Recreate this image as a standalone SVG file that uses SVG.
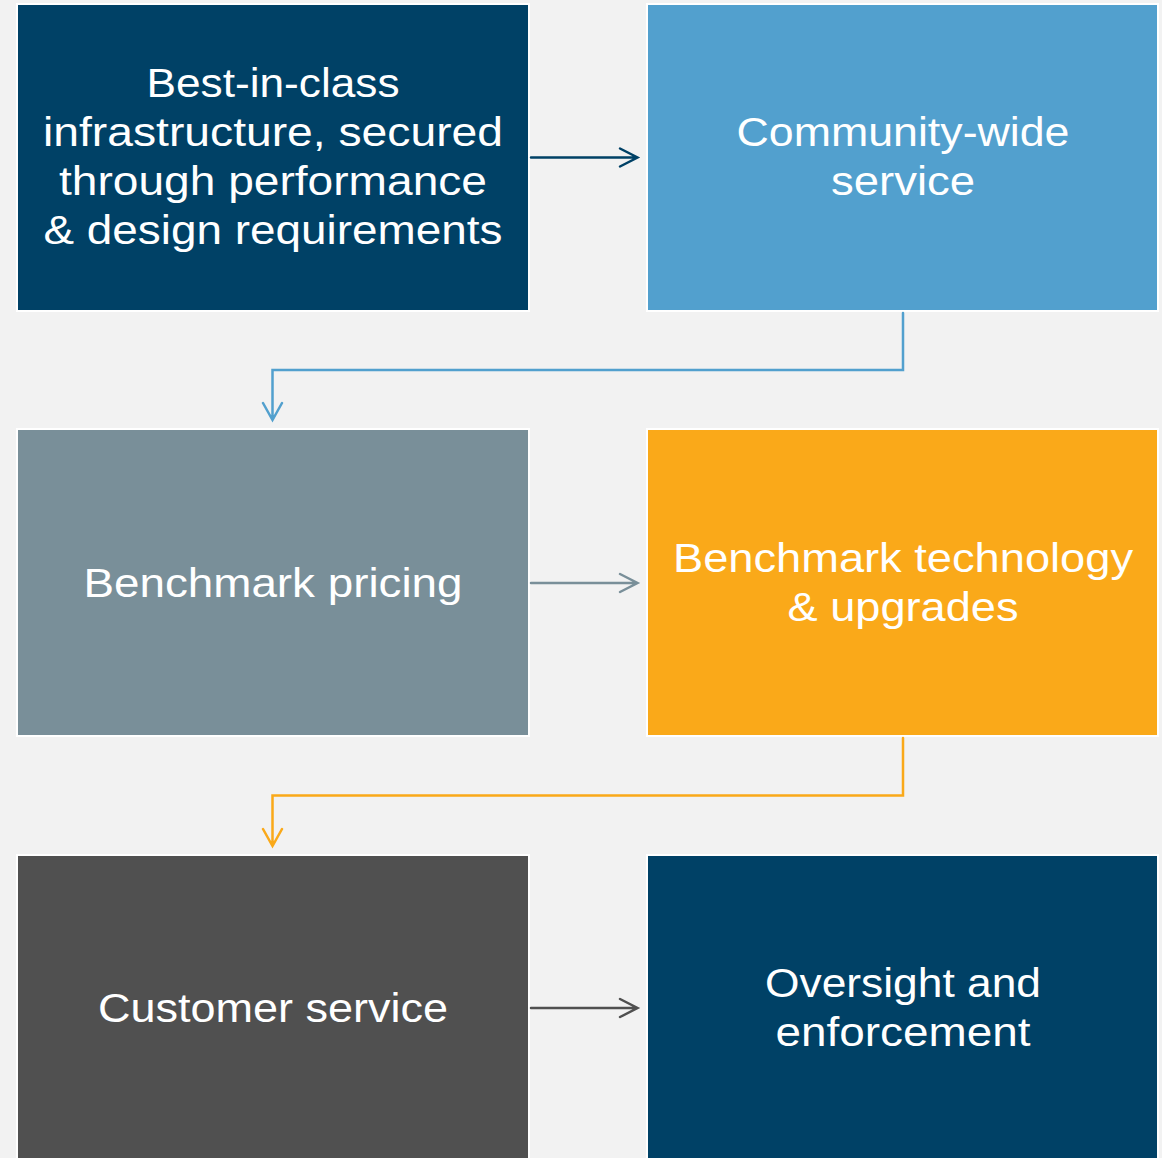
<svg xmlns="http://www.w3.org/2000/svg" width="1162" height="1158" viewBox="0 0 1162 1158">
  <style>
    .box { stroke: #ffffff; stroke-width: 2; }
    .lbl { font-family: "Liberation Sans", Arial, sans-serif; font-size: 40px; fill: #ffffff; text-anchor: middle; }
    .conn { fill: none; stroke-width: 2.5; stroke-linecap: round; stroke-linejoin: miter; }
  </style>
  <rect width="1162" height="1158" fill="#f2f2f2"/>

  <g id="node-infrastructure">
    <rect class="box" x="17" y="4" width="512" height="307" fill="#004166"/>
    <text class="lbl" x="273" y="97" textLength="253" lengthAdjust="spacingAndGlyphs">Best-in-class</text>
    <text class="lbl" x="273" y="146" textLength="460" lengthAdjust="spacingAndGlyphs">infrastructure, secured</text>
    <text class="lbl" x="273" y="195" textLength="428" lengthAdjust="spacingAndGlyphs">through performance</text>
    <text class="lbl" x="273" y="244" textLength="459" lengthAdjust="spacingAndGlyphs">&amp; design requirements</text>
  </g>

  <g id="node-community">
    <rect class="box" x="647" y="4" width="511" height="307" fill="#52a0ce"/>
    <text class="lbl" x="903" y="146" textLength="333" lengthAdjust="spacingAndGlyphs">Community-wide</text>
    <text class="lbl" x="903" y="195" textLength="144" lengthAdjust="spacingAndGlyphs">service</text>
  </g>

  <g id="node-pricing">
    <rect class="box" x="17" y="429" width="512" height="307" fill="#798f99"/>
    <text class="lbl" x="273" y="597" textLength="379" lengthAdjust="spacingAndGlyphs">Benchmark pricing</text>
  </g>

  <g id="node-technology">
    <rect class="box" x="647" y="429" width="511" height="307" fill="#faa919"/>
    <text class="lbl" x="903" y="572" textLength="460" lengthAdjust="spacingAndGlyphs">Benchmark technology</text>
    <text class="lbl" x="903" y="621" textLength="231" lengthAdjust="spacingAndGlyphs">&amp; upgrades</text>
  </g>

  <g id="node-customer">
    <rect class="box" x="17" y="855" width="512" height="310" fill="#505050"/>
    <text class="lbl" x="273" y="1022" textLength="350" lengthAdjust="spacingAndGlyphs">Customer service</text>
  </g>

  <g id="node-oversight">
    <rect class="box" x="647" y="855" width="511" height="310" fill="#004166"/>
    <text class="lbl" x="903" y="997" textLength="276" lengthAdjust="spacingAndGlyphs">Oversight and</text>
    <text class="lbl" x="903" y="1046" textLength="255" lengthAdjust="spacingAndGlyphs">enforcement</text>
  </g>

  <g id="connectors">
    <!-- row 1: infrastructure -> community -->
    <path class="conn" stroke="#004166" d="M531 157.5 H637 M620 148.5 L637.5 157.5 L620 166.5"/>
    <!-- community -> pricing (elbow) -->
    <path class="conn" stroke="#52a0ce" d="M903 313 V370 H272.5 V419 M263 403 L272.5 420 L282 403"/>
    <!-- row 2: pricing -> technology -->
    <path class="conn" stroke="#798f99" d="M531 583 H637 M620 574 L637.5 583 L620 592"/>
    <!-- technology -> customer (elbow) -->
    <path class="conn" stroke="#faa919" d="M903 738 V795.5 H272.5 V845 M263 829 L272.5 846 L282 829"/>
    <!-- row 3: customer -> oversight -->
    <path class="conn" stroke="#505050" d="M531 1008 H637 M620 999 L637.5 1008 L620 1017"/>
  </g>
</svg>
